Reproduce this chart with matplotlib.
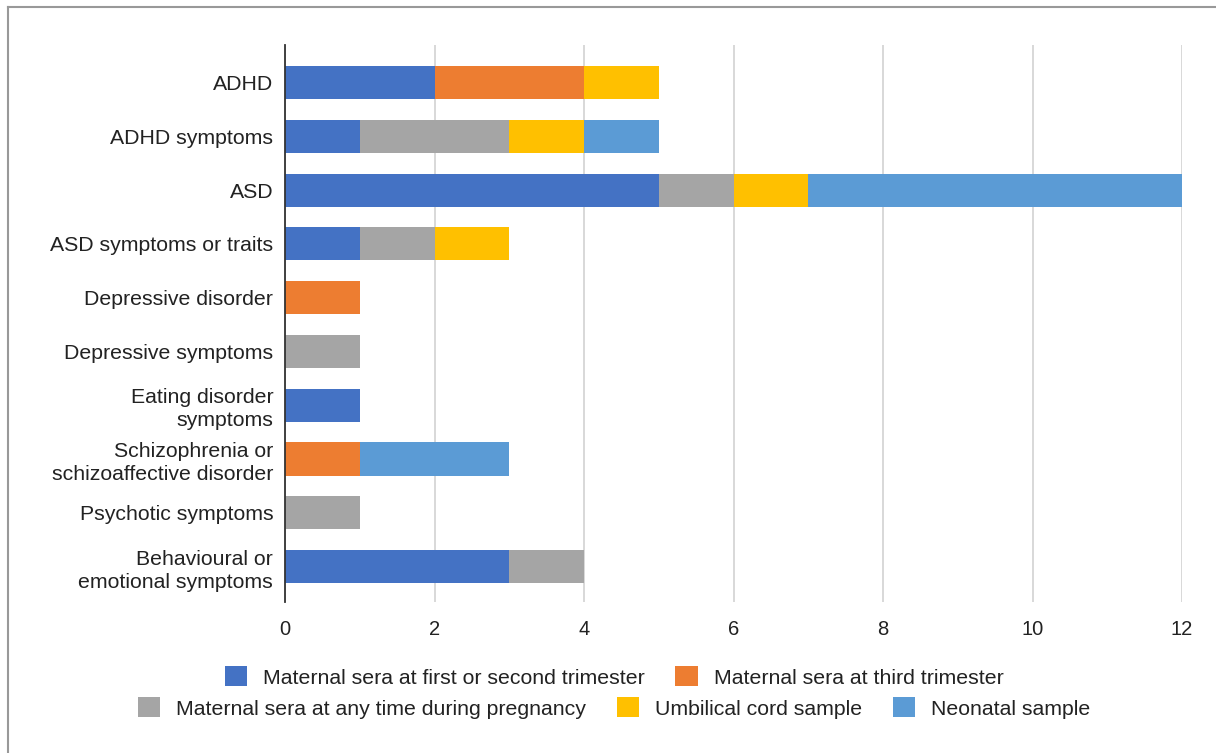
import matplotlib
matplotlib.use("Agg")
import matplotlib.pyplot as plt
from matplotlib.lines import Line2D
from matplotlib.patches import Patch
import numpy as np

plt.rcParams["font.family"] = ["Liberation Sans", "DejaVu Sans"]

categories = [
    "ADHD",
    "ADHD symptoms",
    "ASD",
    "ASD symptoms or traits",
    "Depressive disorder",
    "Depressive symptoms",
    "Eating disorder\nsymptoms",
    "Schizophrenia or\nschizoaffective disorder",
    "Psychotic symptoms",
    "Behavioural or\nemotional symptoms",
]

series_names = [
    "Maternal sera at first or second trimester",
    "Maternal sera at third trimester",
    "Maternal sera at any time during pregnancy",
    "Umbilical cord sample",
    "Neonatal sample",
]

first_second_trimester = [2, 1, 5, 1, 0, 0, 1, 0, 0, 3]
third_trimester = [2, 0, 0, 0, 1, 0, 0, 1, 0, 0]
any_time_pregnancy = [0, 2, 1, 1, 0, 1, 0, 0, 1, 1]
umbilical_cord = [1, 1, 1, 1, 0, 0, 0, 0, 0, 0]
neonatal = [0, 1, 5, 0, 0, 0, 0, 2, 0, 0]

series_values = [first_second_trimester, third_trimester, any_time_pregnancy,
                 umbilical_cord, neonatal]
colors = ["#4472C4", "#ED7D31", "#A5A5A5", "#FFC000", "#5B9BD5"]

x_ticks = [0, 2, 4, 6, 8, 10, 12]

W, H = 1216, 753
fig = plt.figure(figsize=(W / 100, H / 100), dpi=100)
ax = fig.add_axes([285 / W, 1 - 602 / H, (1182 - 285) / W, (602 - 45) / H])

y = np.arange(len(categories))
left = np.zeros(len(categories))
for name, vals, col in zip(series_names, series_values, colors):
    vals = np.array(vals, dtype=float)
    ax.barh(y, vals, left=left, height=0.615, color=col, label=name,
            zorder=3, linewidth=0)
    left += vals

ax.set_xlim(0, 12)
ax.set_ylim(9.66, -0.70)
ax.set_xticks(x_ticks)
ax.set_xticklabels([str(t) for t in x_ticks])
ax.set_yticks(y)
ax.set_yticklabels(categories, linespacing=1.28)

ax.grid(axis="x", color="#D6D6D6", linewidth=1.3, zorder=0)
ax.grid(axis="y", visible=False)
for side in ["top", "right", "bottom"]:
    ax.spines[side].set_visible(False)
ax.spines["left"].set_color("#333333")
ax.spines["left"].set_linewidth(1.3)
ax.spines["left"].set_zorder(4)

ax.tick_params(axis="x", length=0, pad=13, labelsize=14.5, labelcolor="#222222")
ax.tick_params(axis="y", length=0, pad=8.5, labelsize=15.3, labelcolor="#222222")

# legend split into two centred rows
handles = [Patch(facecolor=c, edgecolor="none") for c in colors]
common = dict(frameon=False, fontsize=15.3, handlelength=1.05, handleheight=1.05,
              handletextpad=0.75, columnspacing=1.45, borderaxespad=0,
              borderpad=0, labelcolor="#222222")
fig.legend(handles[:2], series_names[:2], ncol=2, loc="center",
           bbox_to_anchor=(614 / W, 1 - 677 / H), **common)
fig.legend(handles[2:], series_names[2:], ncol=3, loc="center",
           bbox_to_anchor=(614 / W, 1 - 708 / H), **common)

# outer frame lines (top and left)
fig.add_artist(Line2D([8 / W, 1], [1 - 7 / H, 1 - 7 / H], color="#999999",
                      linewidth=1.5, transform=fig.transFigure))
fig.add_artist(Line2D([8 / W, 8 / W], [0, 1 - 7 / H], color="#999999",
                      linewidth=1.5, transform=fig.transFigure))

fig.savefig("out.png", dpi=100)
